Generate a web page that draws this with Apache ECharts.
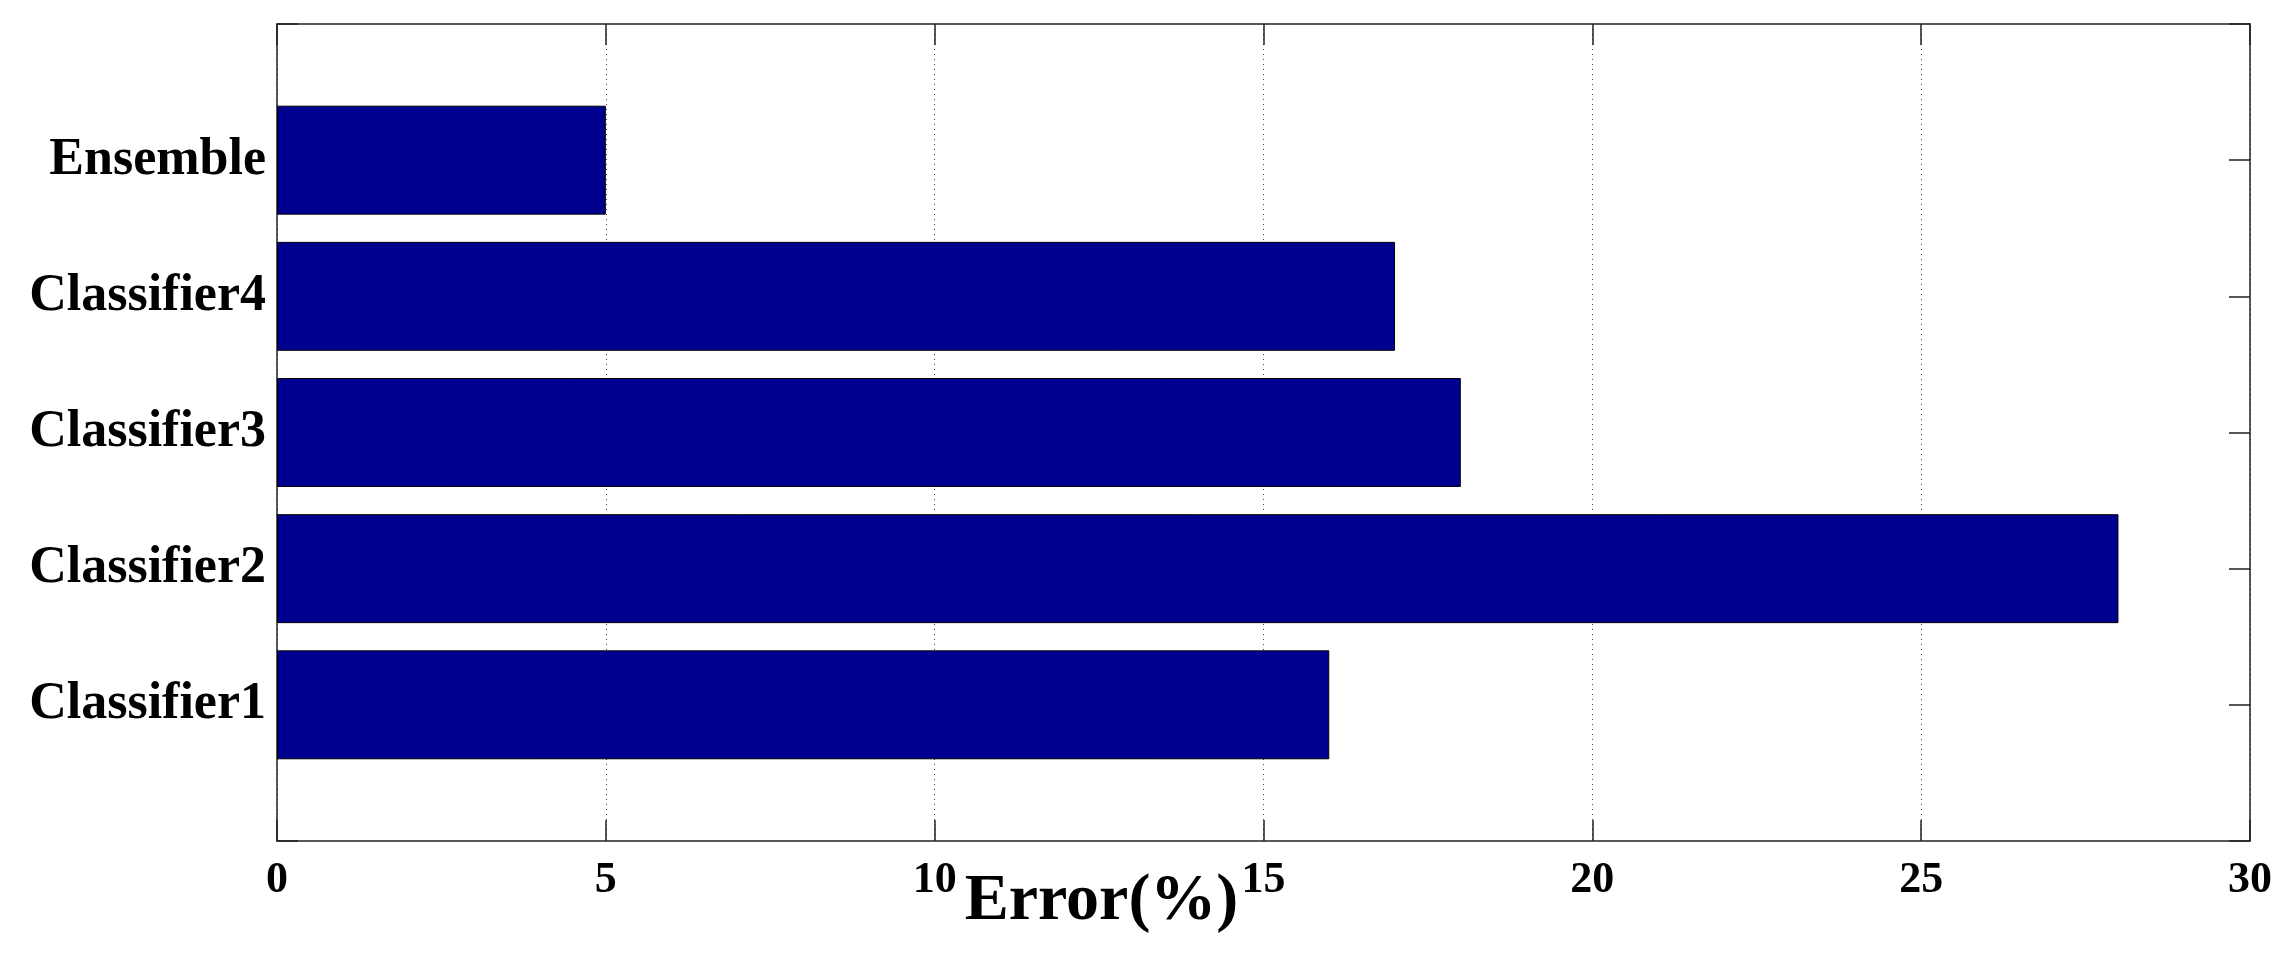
<!DOCTYPE html>
<html>
<head>
<meta charset="utf-8">
<title>Error(%)</title>
<script src="https://cdn.jsdelivr.net/npm/echarts@6/dist/echarts.min.js"></script>
<style>
  html, body { margin: 0; padding: 0; background: #fff; }
  #bar-chart { width: 2296px; height: 960px; }
</style>
</head>
<body>
<div id="bar-chart"></div>
<script>
// bottom to top, as in the figure
const categories = ["Classifier1", "Classifier2", "Classifier3", "Classifier4", "Ensemble"];
const errorValues = [16, 28, 18, 17, 5];
const xMin = 0;
const xMax = 30;
const xStep = 5;

// matlab-style y range 0..6, bars on 1..5
const yLabels = [""].concat(categories, [""]);
const barData = [null].concat(errorValues, [null]);

const serif = "'Liberation Serif', 'Times New Roman', serif";
const frameColor = "#222";

let myChart = echarts.init(document.getElementById("bar-chart"), null, { renderer: "canvas" });

myChart.setOption({
  animation: false,
  backgroundColor: "#fff",
  grid: {
    left: 277,
    right: 46,
    top: 24,
    bottom: 119,
    containLabel: false,
    outerBoundsMode: "none"
  },
  xAxis: [
    {
      type: "value",
      position: "bottom",
      min: xMin,
      max: xMax,
      interval: xStep,
      name: "Error(%)",
      nameLocation: "middle",
      nameGap: 28,
      nameMoveOverlap: false,
      nameTextStyle: {
        fontFamily: serif,
        fontWeight: "bold",
        fontSize: 66,
        color: "#000",
        padding: [0, 324, 0, 0]
      },
      axisLine: { show: true, lineStyle: { color: frameColor, width: 1.5 } },
      axisTick: { show: true, inside: true, length: 21, lineStyle: { color: frameColor, width: 1.5 } },
      axisLabel: {
        fontFamily: serif,
        fontWeight: "bold",
        fontSize: 44,
        color: "#000",
        margin: 18
      },
      splitLine: {
        show: true,
        lineStyle: { type: [1, 4], color: "#444", width: 1 }
      }
    },
    {
      type: "value",
      position: "top",
      min: xMin,
      max: xMax,
      interval: xStep,
      axisLine: { show: true, lineStyle: { color: frameColor, width: 1.5 } },
      axisTick: { show: true, inside: true, length: 21, lineStyle: { color: frameColor, width: 1.5 } },
      axisLabel: { show: false },
      splitLine: { show: false }
    }
  ],
  yAxis: [
    {
      type: "category",
      position: "left",
      data: yLabels,
      boundaryGap: false,
      axisLine: { show: true, onZero: false, lineStyle: { color: frameColor, width: 1.5 } },
      axisTick: { show: true, inside: true, length: 21, lineStyle: { color: frameColor, width: 1.5 } },
      axisLabel: {
        fontFamily: serif,
        fontWeight: "bold",
        fontSize: 52,
        color: "#000",
        margin: 11
      },
      splitLine: { show: false }
    },
    {
      type: "category",
      position: "right",
      data: yLabels,
      boundaryGap: false,
      axisLine: { show: true, onZero: false, lineStyle: { color: frameColor, width: 1.5 } },
      axisTick: { show: true, inside: true, length: 21, lineStyle: { color: frameColor, width: 1.5 } },
      axisLabel: { show: false },
      splitLine: { show: false }
    }
  ],
  series: [
    {
      type: "bar",
      xAxisIndex: 0,
      yAxisIndex: 0,
      data: barData,
      barWidth: "80%",
      itemStyle: {
        color: "#00008F",
        borderColor: "#000",
        borderWidth: 1
      }
    }
  ]
});
</script>
</body>
</html>
